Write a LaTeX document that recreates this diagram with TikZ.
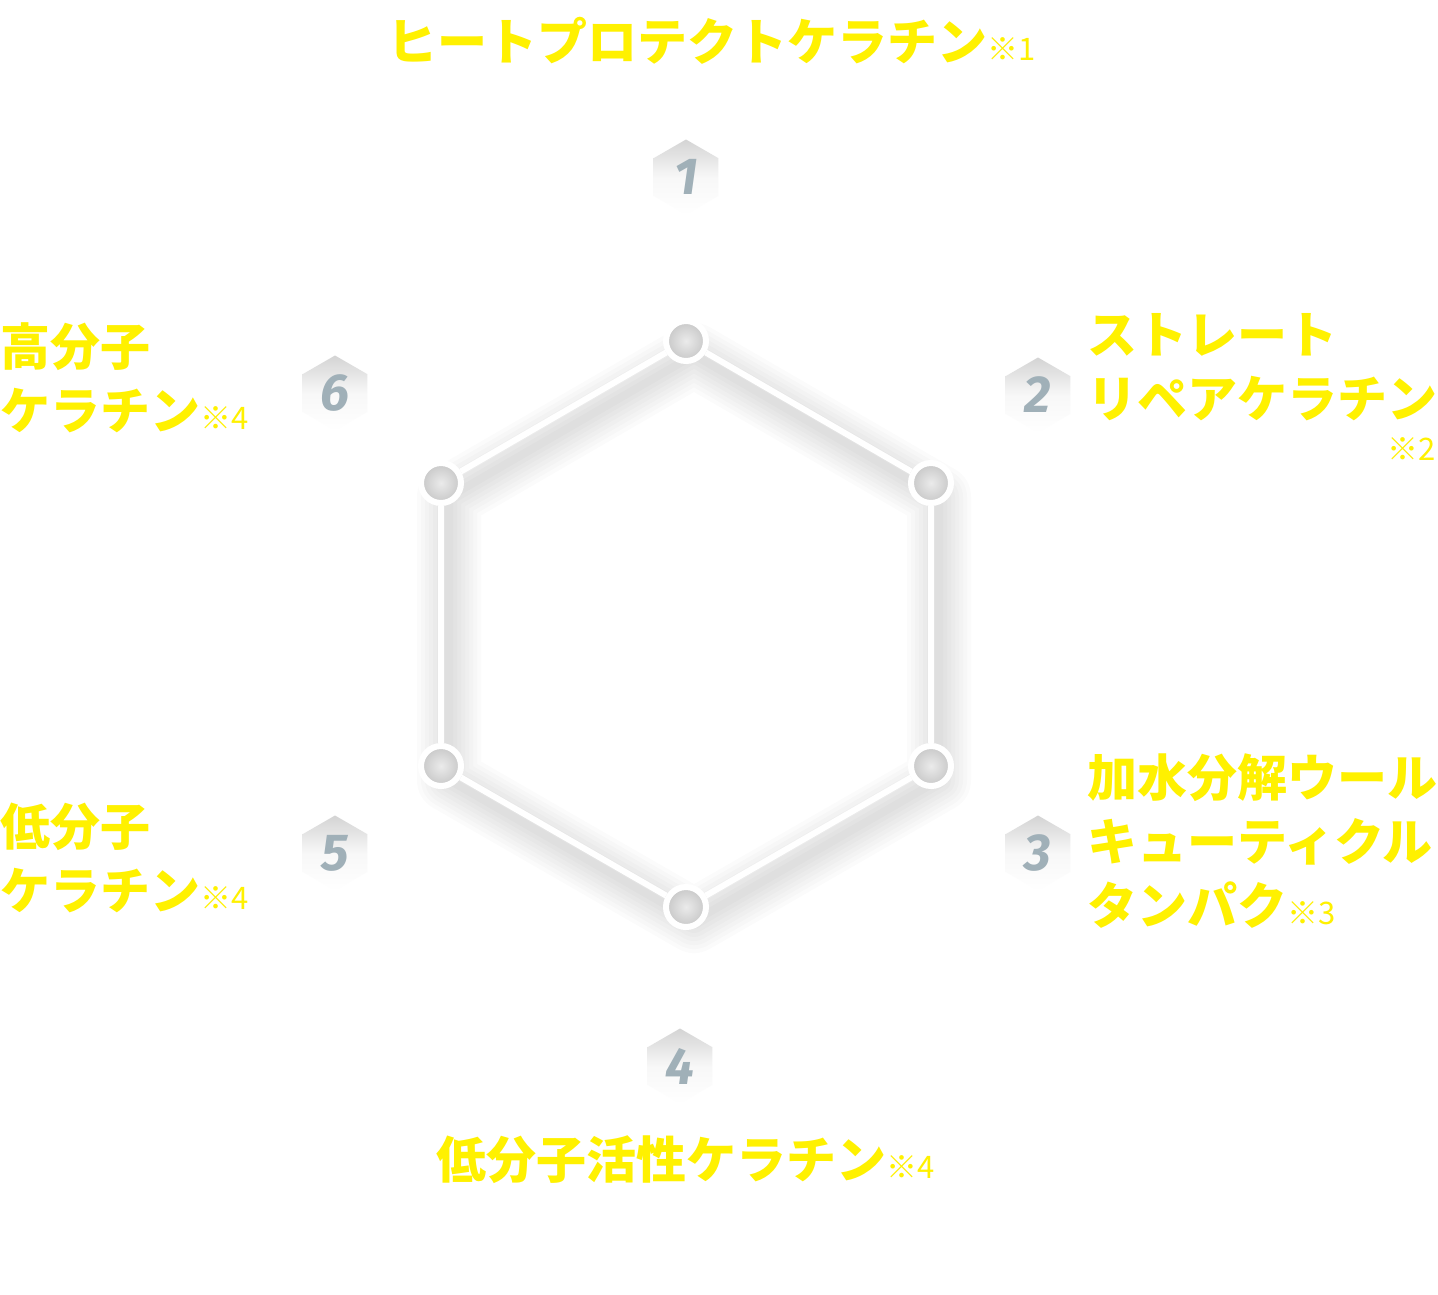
\documentclass[tikz,border=0pt]{standalone}
\usepackage{fontspec}
\usetikzlibrary{shapes.geometric, backgrounds}
\newfontfamily\jpfont{Noto Sans CJK JP}
\newfontfamily\numfont{Fira Sans}
\definecolor{keratinyellow}{RGB}{255,241,0}
\definecolor{badgegray}{RGB}{160,176,184}
\newcommand{\notemark}[1]{{\mdseries\fontsize{31}{31}\selectfont ※#1}}

\begin{document}
\begin{tikzpicture}[
        x=1pt, y=-1pt,
        vertex/.style={circle, draw=white, line width=6pt, minimum size=40pt, inner sep=0pt, shading=radial, inner color=black!8, outer color=black!22},
        badge/.style={regular polygon, regular polygon sides=6, shape border rotate=30, minimum size=75pt, inner sep=0pt, top color=black!17, bottom color=white, middle color=black!3, font=\numfont\bfseries\itshape\fontsize{52}{52}\selectfont, text=badgegray},
        ingredient/.style={inner sep=0pt, align=left, text=keratinyellow, font=\jpfont\bfseries\fontsize{50}{64}\selectfont},
        edge/.style={white, line width=6pt},
        haze/.style={black, line join=round, line cap=round}
    ]
        \useasboundingbox (0,0) rectangle (1438,1294);

        % hexagon
        \node[vertex] (v1) at (686,341) {};
        \node[vertex] (v2) at (931,483) {};
        \node[vertex] (v3) at (931,766) {};
        \node[vertex] (v4) at (686,907) {};
        \node[vertex] (v5) at (441,766) {};
        \node[vertex] (v6) at (441,483) {};

        \begin{scope}[on background layer]
            \fill[white] (0,0) rectangle (1438,1294);
            \foreach \i in {1,...,6}
                \coordinate (s\i) at ([shift={(8,14)}]v\i.center);
            \foreach \w in {64,56,...,8} {
                \draw[haze, line width=\w pt, opacity=.017] (s1) -- (s2) -- (s3) -- (s4) -- (s5) -- (s6) -- cycle;
            }
            \foreach \a/\b in {1/2, 2/3, 3/4, 4/5, 5/6, 6/1}
                \draw[edge] (v\a) -- (v\b);
        \end{scope}

        % badges
        \node[badge] (b1) at (686,177) {1};
        \node[badge] (b2) at (1038,395) {2};
        \node[badge] (b3) at (1038,853) {3};
        \node[badge] (b4) at (680,1066) {4};
        \node[badge] (b5) at (335,853) {5};
        \node[badge] (b6) at (335,393) {6};

        % labels
        \node[ingredient, anchor=north west] (l1) at (387,17) {ヒートプロテクトケラチン\notemark{1}};
        \node[ingredient, anchor=north west] (l2) at (1087,313) {ストレート\\リペアケラチン};
        \node[ingredient, anchor=base east] (n2) at (1436,460) {\notemark{2}};
        \node[ingredient, anchor=north west] (l3) at (1087,753) {加水分解ウール\\キューティクル\\タンパク\notemark{3}};
        \node[ingredient, anchor=north west] (l4) at (436,1135) {低分子活性ケラチン\notemark{4}};
        \node[ingredient, anchor=north west] (l5) at (0,803) {低分子\\ケラチン\notemark{4}};
        \node[ingredient, anchor=north west] (l6) at (0,322) {高分子\\ケラチン\notemark{4}};
    \end{tikzpicture}
\end{document}
